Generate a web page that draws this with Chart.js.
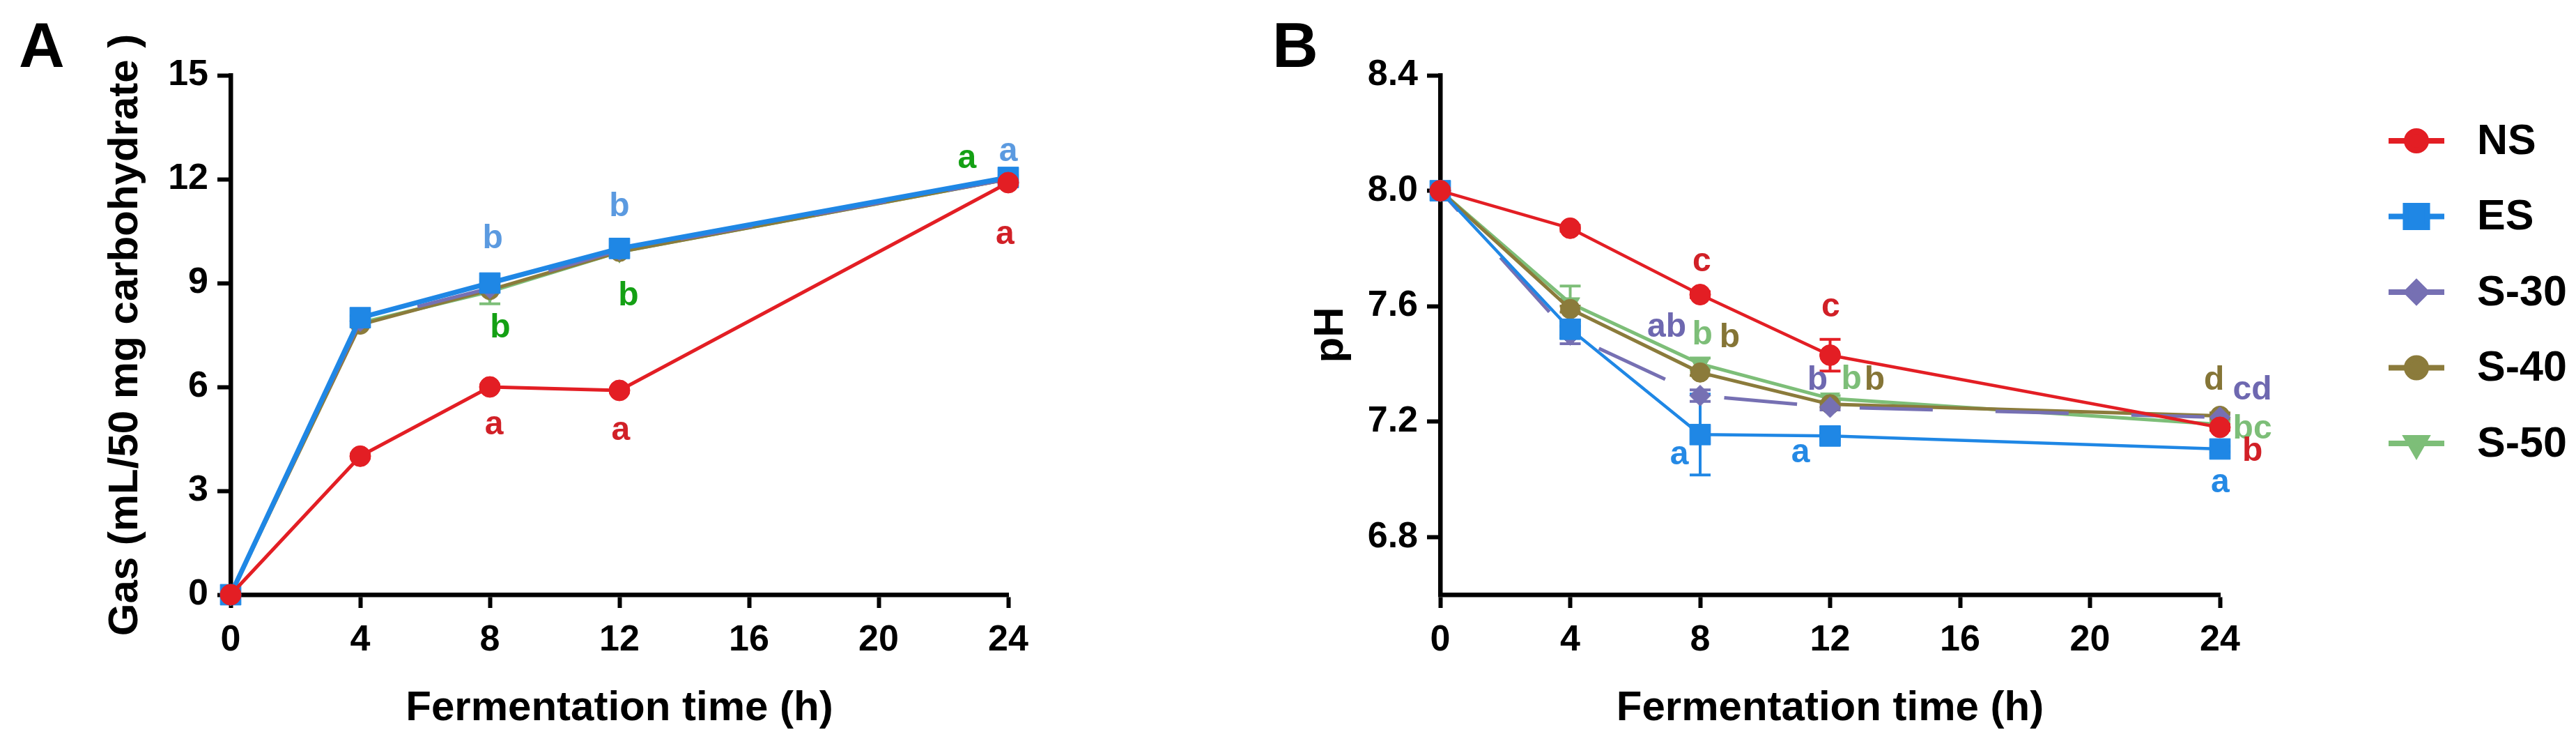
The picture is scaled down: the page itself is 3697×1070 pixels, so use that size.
<!DOCTYPE html>
<html>
<head>
  <title>Gas production and pH during fermentation</title>
  <script src="https://cdn.jsdelivr.net/npm/chart.js"></script>
  <style>
    body { margin: 0; background: #fff; width: 3697px; height: 1070px; overflow: hidden; position: relative; }
    canvas { position: absolute; top: 0; }
    #chartGas { left: 0; }
    #chartPh { left: 1500px; }
  </style>
</head>
<body>
  <canvas id="chartGas" width="1500" height="1070"></canvas>
  <canvas id="chartPh" width="2197" height="1070"></canvas>

<script>
// fermentation sampling times (h)
const hours = [0, 4, 8, 12, 24];
const timeTicks = [0, 4, 8, 12, 16, 20, 24];
const gasTicks = [0, 3, 6, 9, 12, 15];
const phTicks = [6.8, 7.2, 7.6, 8.0, 8.4];
const groups = ['NS', 'ES', 'S-30', 'S-40', 'S-50'];

// A: gas (mL/50 mg carbohydrate)
const gasNS  = [0, 4.0, 6.0, 5.9, 11.9];
const gasES  = [0, 8.0, 9.0, 10.0, 12.05];
const gasS30 = [0, 7.9, 8.85, 9.95, 12.0];
const gasS40 = [0, 7.8, 8.8, 9.9, 12.0];
const gasS50 = [0, 7.85, 8.75, 9.9, 12.0];
const gasErrNS  = [0, 0.05, 0.05, 0.05, 0.05];
const gasErrES  = [0, 0.05, 0.05, 0.05, 0.05];
const gasErrS30 = [0, 0.05, 0.05, 0.05, 0.05];
const gasErrS40 = [0, 0.05, 0.05, 0.05, 0.05];
const gasErrS50 = [0, 0.1, 0.35, 0.1, 0.05];

// B: pH
const phNS  = [8.0, 7.87, 7.64, 7.43, 7.18];
const phES  = [8.0, 7.52, 7.155, 7.15, 7.105];
const phS30 = [8.0, 7.50, 7.29, 7.25, 7.215];
const phS40 = [8.0, 7.59, 7.37, 7.26, 7.22];
const phS50 = [8.0, 7.61, 7.40, 7.28, 7.19];
const phErrNS  = [0, 0.01, 0.01, 0.055, 0.01];
const phErrES  = [0, 0.03, 0.14, 0.01, 0.01];
const phErrS30 = [0, 0.03, 0.02, 0.01, 0.01];
const phErrS40 = [0, 0.01, 0.01, 0.01, 0.01];
const phErrS50 = [0, 0.06, 0.02, 0.01, 0.01];

// significance letters: [time, value, text, colour]
const gasLetters = [
  [8.09, 10.27, 'b', '#5B9AE0'], [8.32, 7.69, 'b', '#14A014'], [8.13, 4.9, 'a', '#D12027'],
  [12.0, 11.2, 'b', '#5B9AE0'], [12.28, 8.62, 'b', '#14A014'], [12.04, 4.73, 'a', '#D12027'],
  [22.73, 12.58, 'a', '#14A014'], [24.0, 12.78, 'a', '#5B9AE0'], [23.9, 10.39, 'a', '#D12027']
];
const phLetters = [
  [8.05, 7.754, 'c', '#D12027'], [12.02, 7.596, 'c', '#D12027'],
  [6.97, 7.526, 'ab', '#6E68B0'], [8.07, 7.50, 'b', '#7DBE78'], [8.91, 7.49, 'b', '#857536'],
  [11.61, 7.342, 'b', '#6E68B0'], [12.66, 7.344, 'b', '#7DBE78'], [13.37, 7.342, 'b', '#857536'],
  [7.36, 7.083, 'a', '#2489E5'], [11.09, 7.09, 'a', '#2489E5'],
  [23.82, 7.342, 'd', '#857536'], [25.0, 7.308, 'cd', '#6E68B0'], [25.0, 7.172, 'bc', '#7DBE78'],
  [25.0, 7.095, 'b', '#D12027'], [24.01, 6.988, 'a', '#2489E5']
];

const FONT = "'Liberation Sans', Arial, sans-serif";
const look = {
  'NS':   { color: '#E31E24', point: 'circle',   r: 15, key: 14, rot: 0,   dash: [],        order: 0 },
  'ES':   { color: '#1F87E5', point: 'rect',     r: 21, key: 22, rot: 0,   dash: [],        order: 1 },
  'S-30': { color: '#7670B3', point: 'rectRot',  r: 15, key: 14, rot: 0,   dash: [105, 90], order: 2 },
  'S-40': { color: '#8B7B3B', point: 'circle',   r: 14, key: 14, rot: 0,   dash: [],        order: 3 },
  'S-50': { color: '#7DBE78', point: 'triangle', r: 16, key: 16, rot: 180, dash: [],        order: 4 }
};

function makeDatasets(series, widths) {
  return groups.map((g, i) => ({
    label: g,
    data: hours.map((h, j) => ({ x: h, y: series[i][j] })),
    borderColor: look[g].color,
    backgroundColor: look[g].color,
    borderWidth: widths[i],
    borderDash: look[g].dash,
    borderDashOffset: 66,
    pointStyle: look[g].point,
    pointRadius: look[g].r,
    pointRotation: look[g].rot,
    pointBorderWidth: 1,
    pointHoverRadius: look[g].r,
    tension: 0,
    clip: false,
    order: look[g].order
  }));
}

const extras = {
  id: 'extras',
  beforeDatasetsDraw(chart, args, opts) {
    const ctx = chart.ctx, xs = chart.scales.x, ys = chart.scales.y;
    ctx.save();
    (opts.errors || []).forEach((errs, i) => {
      const ds = chart.data.datasets[i];
      ctx.strokeStyle = ds.borderColor;
      ctx.lineWidth = 4;
      errs.forEach((e, j) => {
        if (!e) return;
        const v = ds.data[j].y;
        const px = xs.getPixelForValue(hours[j]);
        const t = ys.getPixelForValue(v + e), b = ys.getPixelForValue(v - e);
        ctx.beginPath();
        ctx.moveTo(px, t); ctx.lineTo(px, b);
        ctx.moveTo(px - 15, t); ctx.lineTo(px + 15, t);
        ctx.moveTo(px - 15, b); ctx.lineTo(px + 15, b);
        ctx.stroke();
      });
    });
    ctx.restore();
  },
  afterDatasetsDraw(chart, args, opts) {
    const ctx = chart.ctx, xs = chart.scales.x, ys = chart.scales.y;
    ctx.save();
    ctx.textAlign = 'center';
    ctx.textBaseline = 'middle';
    ctx.font = 'bold 48px ' + FONT;
    (opts.letters || []).forEach(([t, v, txt, col]) => {
      ctx.fillStyle = col;
      ctx.fillText(txt, xs.getPixelForValue(t), ys.getPixelForValue(v));
    });
    if (opts.tag) {
      ctx.textAlign = 'left';
      ctx.textBaseline = 'alphabetic';
      ctx.fillStyle = '#000';
      ctx.font = 'bold 91px ' + FONT;
      ctx.fillText(opts.tag.text, opts.tag.x, opts.tag.y);
    }
    if (opts.legend) {
      const L = opts.legend;
      chart.data.datasets.forEach((ds, i) => {
        const y = L.y + i * L.gap;
        ctx.strokeStyle = ds.borderColor;
        ctx.lineWidth = 8;
        ctx.setLineDash([]);
        ctx.beginPath();
        ctx.moveTo(L.x, y); ctx.lineTo(L.x + L.len, y);
        ctx.stroke();
        ctx.fillStyle = ds.backgroundColor;
        Chart.helpers.drawPoint(ctx, {
          pointStyle: ds.pointStyle, radius: look[ds.label].key,
          rotation: ds.pointRotation, borderWidth: 1
        }, L.x + L.len / 2, y);
        ctx.fillStyle = '#000';
        ctx.font = 'bold 61px ' + FONT;
        ctx.textAlign = 'left';
        ctx.textBaseline = 'middle';
        ctx.fillText(ds.label, L.textX, y + 2);
      });
    }
    ctx.restore();
  }
};

function axisOptions(yMin, yMax, yTicks, yTitle, yWidth, yFmt) {
  const grid = { display: true, drawOnChartArea: false, drawTicks: true, tickLength: 19, tickWidth: 6, tickColor: '#000' };
  const border = { display: true, color: '#000', width: 6.5 };
  return {
    x: {
      type: 'linear', min: 0, max: 24,
      afterBuildTicks: s => { s.ticks = timeTicks.map(v => ({ value: v })); },
      afterFit: s => { s.height = 217; },
      grid, border,
      ticks: { color: '#000', padding: 15, font: { family: FONT, size: 52, weight: 'bold' } },
      title: { display: true, text: 'Fermentation time (h)', color: '#000',
               font: { family: FONT, size: 60, weight: 'bold' }, padding: { top: 0, bottom: 18 } }
    },
    y: {
      type: 'linear', min: yMin, max: yMax,
      afterBuildTicks: s => { s.ticks = yTicks.map(v => ({ value: v })); },
      afterFit: s => { s.width = yWidth; },
      grid, border,
      ticks: { color: '#000', padding: 13, font: { family: FONT, size: 52, weight: 'bold' }, callback: yFmt },
      title: { display: true, text: yTitle, color: '#000',
               font: { family: FONT, size: 60, weight: 'bold' }, padding: { top: 0, bottom: 0 } }
    }
  };
}

new Chart(document.getElementById('chartGas').getContext('2d'), {
  type: 'line',
  data: { datasets: makeDatasets([gasNS, gasES, gasS30, gasS40, gasS50], [5, 7, 5, 5, 5]) },
  options: {
    responsive: false, animation: false, devicePixelRatio: 1,
    layout: { padding: { left: 144, top: 108, right: 53, bottom: 0 } },
    scales: axisOptions(0, 15, gasTicks, 'Gas (mL/50 mg carbohydrate )', 187, v => v),
    plugins: {
      legend: { display: false }, tooltip: { enabled: false },
      extras: {
        errors: [gasErrNS, gasErrES, gasErrS30, gasErrS40, gasErrS50],
        letters: gasLetters,
        tag: { text: 'A', x: 27, y: 96 }
      }
    }
  },
  plugins: [extras]
});

new Chart(document.getElementById('chartPh').getContext('2d'), {
  type: 'line',
  data: { datasets: makeDatasets([phNS, phES, phS30, phS40, phS50], [4.5, 4.5, 5, 5, 5]) },
  options: {
    responsive: false, animation: false, devicePixelRatio: 1,
    layout: { padding: { left: 374, top: 108, right: 511, bottom: 0 } },
    scales: axisOptions(6.6, 8.4, phTicks, 'pH', 193, v => Number(v).toFixed(1)),
    plugins: {
      legend: { display: false }, tooltip: { enabled: false },
      extras: {
        errors: [phErrNS, phErrES, phErrS30, phErrS40, phErrS50],
        letters: phLetters,
        tag: { text: 'B', x: 326, y: 96 },
        legend: { x: 1928, len: 80, y: 202, gap: 108.5, textX: 2055 }
      }
    }
  },
  plugins: [extras]
});
</script>
</body>
</html>
